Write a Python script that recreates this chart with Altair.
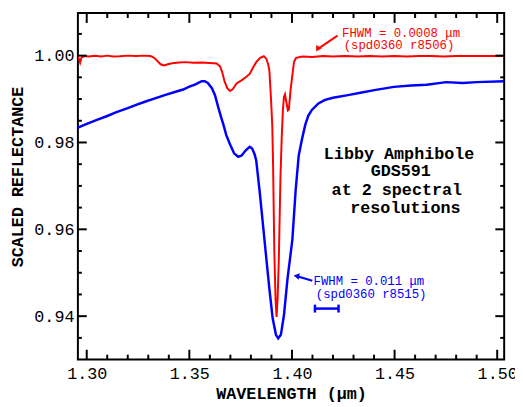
import altair as alt
import pandas as pd

# ---------------- data ----------------
red_w = [1.2957, 1.2963, 1.2968, 1.2975, 1.2990, 1.3010, 1.3040, 1.3070, 1.3100, 1.3130,
         1.3160, 1.3200, 1.3240, 1.3280, 1.3310, 1.3325, 1.3340, 1.3360, 1.3377, 1.3395,
         1.3417, 1.3450, 1.3481, 1.3520, 1.3560, 1.3600, 1.3633, 1.3650, 1.3660, 1.3672,
         1.3685, 1.3698, 1.3712, 1.3730, 1.3754, 1.3775, 1.3794, 1.3810, 1.3826, 1.3845,
         1.3863, 1.3875, 1.3884, 1.3890, 1.3898, 1.3904, 1.3908, 1.3914, 1.3920, 1.3925,
         1.3930, 1.3936, 1.3944, 1.3950, 1.3956, 1.3961, 1.3966, 1.3972, 1.3980, 1.3985,
         1.3993, 1.4002, 1.4010, 1.4020, 1.4050, 1.4100, 1.4150, 1.4200, 1.4260, 1.4320,
         1.4380, 1.4440, 1.4500, 1.4560, 1.4620, 1.4680, 1.4740, 1.4800, 1.4860, 1.4920,
         1.4980, 1.5034]
red_v = [0.9997, 0.9992, 0.9984, 0.9996, 0.9999, 0.9998, 0.99995, 0.9998, 1.0000, 0.9998,
         0.99985, 1.0000, 0.9999, 1.0000, 0.9999, 0.9996, 0.9990, 0.9980, 0.99775, 0.9980,
         0.99825, 0.9984, 0.9985, 0.99835, 0.9984, 0.9983, 0.9982, 0.9975, 0.9962, 0.9940,
         0.9925, 0.99185, 0.9923, 0.9936, 0.9943, 0.9950, 0.9958, 0.9972, 0.9985, 0.9995,
         0.99985, 0.9993, 0.9980, 0.9965, 0.9900, 0.9840, 0.9750, 0.9550, 0.9440, 0.9398,
         0.9440, 0.9530, 0.9720, 0.9810, 0.9875, 0.9905, 0.9911, 0.9895, 0.9874, 0.9876,
         0.9920, 0.9955, 0.9985, 0.9995, 0.9998, 0.9997, 0.9999, 0.9998, 0.9999, 0.9998,
         0.9999, 0.9998, 0.9999, 0.9998, 0.9999, 0.9999, 0.9998, 0.9999, 0.9999, 0.9999,
         0.9999, 0.9999]

blue_w = [1.2957, 1.3000, 1.3050, 1.3100, 1.3145, 1.3200, 1.3241, 1.3290, 1.3329, 1.3380,
          1.3433, 1.3470, 1.3497, 1.3530, 1.3560, 1.3575, 1.3590, 1.3610, 1.3625, 1.3642,
          1.3655, 1.3666, 1.3680, 1.3698, 1.3718, 1.3738, 1.3755, 1.3775, 1.3794, 1.3806,
          1.3818, 1.3826, 1.3842, 1.3858, 1.3874, 1.3890, 1.3906, 1.3922, 1.3933, 1.3946,
          1.3961, 1.3978, 1.4002, 1.4018, 1.4033, 1.4050, 1.4065, 1.4080, 1.4097, 1.4129,
          1.4161, 1.4200, 1.4273, 1.4340, 1.4401, 1.4497, 1.4580, 1.4656, 1.4752, 1.4832,
          1.4900, 1.5034]
blue_v = [0.9834, 0.9843, 0.9852, 0.9861, 0.9870, 0.9879, 0.98865, 0.9895, 0.9901, 0.9909,
          0.99167, 0.9922, 0.9928, 0.9934, 0.9941, 0.9941, 0.9937, 0.9925, 0.9909, 0.9879,
          0.9858, 0.9841, 0.9817, 0.9796, 0.9775, 0.9767, 0.9770, 0.9782, 0.9790, 0.9786,
          0.9773, 0.9758, 0.9690, 0.9614, 0.9538, 0.9463, 0.9395, 0.9357, 0.9349, 0.9357,
          0.9402, 0.9485, 0.9576, 0.9690, 0.9770, 0.9810, 0.9841, 0.9862, 0.9875, 0.9890,
          0.9898, 0.9903, 0.9909, 0.9915, 0.99205, 0.9928, 0.9931, 0.9933, 0.9939, 0.9937,
          0.9939, 0.9941]

x_labels = [1.30, 1.35, 1.40, 1.45, 1.50]
x_minor = [1.31, 1.32, 1.33, 1.34, 1.36, 1.37, 1.38, 1.39,
           1.41, 1.42, 1.43, 1.44, 1.46, 1.47, 1.48, 1.49]
y_labels = [0.94, 0.96, 0.98, 1.00]
y_minor = [0.935, 0.945, 0.950, 0.955, 0.965, 0.970, 0.975,
           0.985, 0.990, 0.995, 1.005]

# text block
block_text = ["Libby Amphibole", "GDS591", "at 2 spectral", "resolutions"]
block_w = [1.4522, 1.4530, 1.4511, 1.4553]
block_v = [0.9773, 0.97335, 0.96897, 0.96481]

# red note
red_note_text = ["FHWM = 0.0008 μm", "(spd0360 r8506)"]
red_note_w = [1.4244, 1.4252]
red_note_v = [1.00529, 1.00234]
red_arrow_w = [1.4222]
red_arrow_v = [1.00461]
red_arrow_w2 = [1.4125]
red_arrow_v2 = [1.00151]

# blue note
blue_note_text = ["FWHM = 0.011 μm", "(spd0360 r8515)"]
blue_note_w = [1.4105, 1.4116]
blue_note_v = [0.94817, 0.94515]
blue_arrow_w = [1.4099]
blue_arrow_v = [0.94817]
blue_arrow_w2 = [1.4022]
blue_arrow_v2 = [0.94926]
bar_w = [1.4112]
bar_w2 = [1.4227]
bar_v = [0.94175]
cap_w = [1.4112, 1.4227]
cap_v = [0.94266, 0.94266]
cap_v2 = [0.94084, 0.94084]

# ---------------- chart ----------------
W, H = 433, 352
X_DOM = [1.2957, 1.5034]
Y_DOM = [0.93, 1.0098]
FONT = "Liberation Mono"
MAJ, MIN = 10, 5
DX = (X_DOM[1] - X_DOM[0]) / W   # data units per pixel
DY = (Y_DOM[1] - Y_DOM[0]) / H

xs = alt.Scale(domain=X_DOM, nice=False, zero=False)
ys = alt.Scale(domain=Y_DOM, nice=False, zero=False)

red_df = pd.DataFrame({"w": red_w, "v": red_v})
blue_df = pd.DataFrame({"w": blue_w, "v": blue_v})
block_df = pd.DataFrame({"w": block_w, "v": block_v, "t": block_text})
rnote_df = pd.DataFrame({"w": red_note_w, "v": red_note_v, "t": red_note_text})
bnote_df = pd.DataFrame({"w": blue_note_w, "v": blue_note_v, "t": blue_note_text})
rarrow_df = pd.DataFrame({"w": red_arrow_w, "v": red_arrow_v, "w2": red_arrow_w2, "v2": red_arrow_v2})
barrow_df = pd.DataFrame({"w": blue_arrow_w, "v": blue_arrow_v, "w2": blue_arrow_w2, "v2": blue_arrow_v2})
bar_df = pd.DataFrame({"w": bar_w, "w2": bar_w2, "v": bar_v})
cap_df = pd.DataFrame({"w": cap_w, "v": cap_v, "v2": cap_v2})


def xq(field="w"):
    return alt.X(f"{field}:Q", scale=xs, axis=None)


def yq(field="v"):
    return alt.Y(f"{field}:Q", scale=ys, axis=None)


blue = alt.Chart(blue_df).mark_line(color="#0000ff", strokeWidth=2.5, clip=True).encode(
    x=xq(), y=yq())

red = alt.Chart(red_df).mark_line(color="#ff0000", strokeWidth=2, clip=True).encode(
    x=alt.X("w:Q", scale=xs, axis=alt.Axis(
        orient="bottom", values=x_labels, format=".2f", ticks=False, domain=False, grid=False,
        labelPadding=6, labelFlush=False, title="WAVELENGTH (μm)", titleX=W / 2, titleY=35,
        titleBaseline="middle", titleFontWeight="bold")),
    y=alt.Y("v:Q", scale=ys, axis=alt.Axis(
        orient="left", values=y_labels, format=".2f", ticks=False, domain=False, grid=False,
        labelPadding=4, labelFlush=False, title="SCALED REFLECTANCE", titleX=-61, titleY=166,
        titleAngle=-90, titleAlign="center", titleBaseline="middle", titleFontWeight="bold")),
)


# inward ticks on all four sides (drawn as short rules from the frame inwards)
def xticks(values, size):
    bot = pd.DataFrame({"t": values, "a": Y_DOM[0], "b": Y_DOM[0] + size * DY})
    top = pd.DataFrame({"t": values, "a": Y_DOM[1], "b": Y_DOM[1] - size * DY})
    return [alt.Chart(d).mark_rule(color="black", strokeWidth=2).encode(
        x=xq("t"), y=yq("a"), y2="b:Q") for d in (bot, top)]


def yticks(values, size):
    left = pd.DataFrame({"t": values, "a": X_DOM[0], "b": X_DOM[0] + size * DX})
    right = pd.DataFrame({"t": values, "a": X_DOM[1], "b": X_DOM[1] - size * DX})
    return [alt.Chart(d).mark_rule(color="black", strokeWidth=2).encode(
        y=yq("t"), x=xq("a"), x2="b:Q") for d in (left, right)]


ticks = xticks(x_labels, MAJ) + xticks(x_minor, MIN) + yticks(y_labels, MAJ - 1) + yticks(y_minor, MIN - 1)

block = alt.Chart(block_df).mark_text(font=FONT, fontSize=17, fontWeight="bold", color="black",
                                      align="center", baseline="middle").encode(
    x=xq(), y=yq(), text="t:N")

rnote = alt.Chart(rnote_df).mark_text(font=FONT, fontSize=12.5, color="#ff0000", align="left",
                                      baseline="middle").encode(x=xq(), y=yq(), text="t:N")
bnote = alt.Chart(bnote_df).mark_text(font=FONT, fontSize=12.5, color="#0000ff", align="left",
                                      baseline="middle").encode(x=xq(), y=yq(), text="t:N")

rarrow = alt.Chart(rarrow_df).mark_rule(color="#ff0000", strokeWidth=2).encode(
    x=xq(), y=yq(), x2="w2:Q", y2="v2:Q")
rhead = alt.Chart(rarrow_df).mark_point(shape="triangle-up", filled=True, color="#ff0000",
                                        size=45, opacity=1, angle=210).encode(x=xq("w2"), y=yq("v2"))

barrow = alt.Chart(barrow_df).mark_rule(color="#0000ff", strokeWidth=2).encode(
    x=xq(), y=yq(), x2="w2:Q", y2="v2:Q")
bhead = alt.Chart(barrow_df).mark_point(shape="triangle-up", filled=True, color="#0000ff",
                                        size=45, opacity=1, angle=281).encode(x=xq("w2"), y=yq("v2"))

bar = alt.Chart(bar_df).mark_rule(color="#0000ff", strokeWidth=2.5).encode(
    x=xq(), x2="w2:Q", y=yq())
caps = alt.Chart(cap_df).mark_rule(color="#0000ff", strokeWidth=2.5).encode(
    x=xq(), y=yq(), y2="v2:Q")

chart = alt.layer(blue, red, *ticks, block, rnote, bnote, rarrow, rhead, barrow, bhead, bar, caps).resolve_axis(
    x="independent", y="independent"
).properties(
    width=W, height=H,
    background="white",
    autosize=alt.AutoSizeParams(type="none"),
    padding={"left": 71, "top": 2, "right": 11, "bottom": 45},
).configure_view(
    stroke="black", strokeWidth=2
).configure_axis(
    labelFont=FONT, titleFont=FONT, labelFontSize=17, titleFontSize=17,
    labelColor="black", titleColor="black",
)

chart.save("out.html", embed_options={"renderer": "svg", "actions": False})
